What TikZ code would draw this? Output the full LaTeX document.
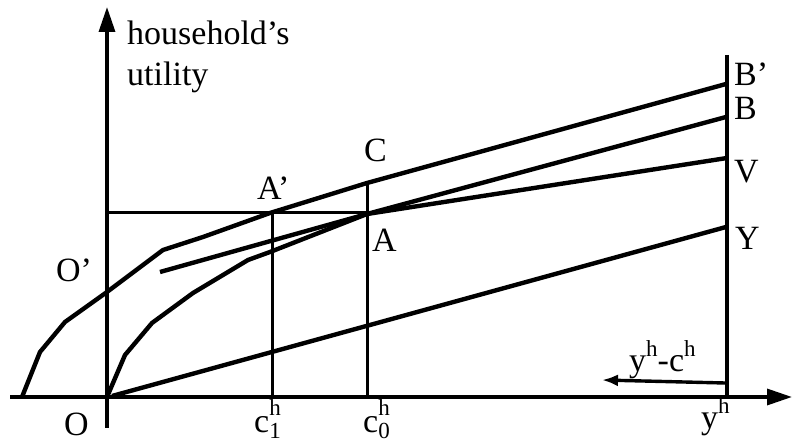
\documentclass[tikz,border=0pt]{standalone}
\usepackage{fontspec}
\setmainfont{Liberation Serif}
\usetikzlibrary{arrows.meta}
\newcommand\bigf{\fontsize{34}{40}\selectfont}
\newcommand\smf{\fontsize{23}{23}\selectfont}
\newcommand\supsub[2]{\rlap{\raisebox{17pt}{\smf #1}}\raisebox{-6pt}{\smf #2}}
\newcommand\supr[2]{\raisebox{#2}{\smf #1}}
\begin{document}
\begin{tikzpicture}[x=1pt,y=-1pt,
  axis/.style={line width=3.4pt,-{Triangle[length=25pt,width=16pt]}},
  curve/.style={line width=4.4pt,line join=round},
  guide/.style={line width=3pt},
  lab/.style={inner sep=0pt,anchor=base west,font=\bigf},
  shortarrow/.style={line width=3.4pt,-{Latex[length=16pt,width=12pt]}}]
\useasboundingbox (0,0) rectangle (793,443);
% key points
\coordinate (O) at (107,397);
\coordinate (xs) at (10,397);
\coordinate (xe) at (792,397);
\coordinate (ys) at (107,428);
\coordinate (ye) at (107,7);
\coordinate (rtop) at (727,55);
\coordinate (rbot) at (727,397);
\coordinate (Bp) at (726,84);
\coordinate (B) at (726,117);
\coordinate (V) at (727,158);
\coordinate (Y) at (726,227);
\coordinate (A) at (367,214);
\coordinate (Ap) at (270,213);
\coordinate (C) at (367,183);
\coordinate (hl) at (107,213);
\coordinate (hr) at (367,213);
\coordinate (c1top) at (272,213);
\coordinate (c1bot) at (272,397);
\coordinate (c0bot) at (367,397);
\coordinate (t0) at (160,272);
\coordinate (Ys) at (112,396);
\coordinate (arrR) at (725,383);
\coordinate (arrL) at (602,380);
% axes
\draw[axis] (xs) -- (xe);
\draw[axis] (ys) -- (ye);
\draw[line width=3.4pt] (rtop) -- (rbot);
% guides
\draw[guide] (hl) -- (hr);
\draw[guide] (c1top) -- (c1bot);
\draw[guide] (C) -- (c0bot);
% curves
\draw[curve] (22,397) -- (40,352) -- (65,322) -- (107,292) -- (163,250) -- (203,237) -- (Ap) -- (C) -- (Bp);
\draw[curve] (O) -- (125,355) -- (152,323) -- (193,293) -- (248,260) -- (270,252) -- (A) -- (B);
\draw[curve] (t0) -- (A) -- (V);
\draw[curve] (Ys) -- (Y);
\draw[shortarrow] (arrR) -- (arrL);
% labels
\node[lab] (lh) at (127,45) {household’s};
\node[lab] (lu) at (127,86) {utility};
\node[lab] (lC) at (364,162) {C};
\node[lab] (lAp) at (257,200) {A’};
\node[lab] (lA) at (372,252) {A};
\node[lab] (lOp) at (56,282) {O’};
\node[lab] (lO) at (64,436) {O};
\node[lab] (lc1) at (254,433) {c\supsub{h}{1}};
\node[lab] (lc0) at (363,433) {c\supsub{h}{0}};
\node[lab] (lBp) at (734,86) {B’};
\node[lab] (lB) at (734,120) {B};
\node[lab] (lV) at (734,183) {V};
\node[lab] (lY) at (735,250) {Y};
\node[lab] (lyh) at (701,429) {y\supr{h}{15pt}};
\node[lab] (lyc) at (629,372) {y\supr{h}{15pt}-c\supr{h}{15pt}};
\end{tikzpicture}
\end{document}
